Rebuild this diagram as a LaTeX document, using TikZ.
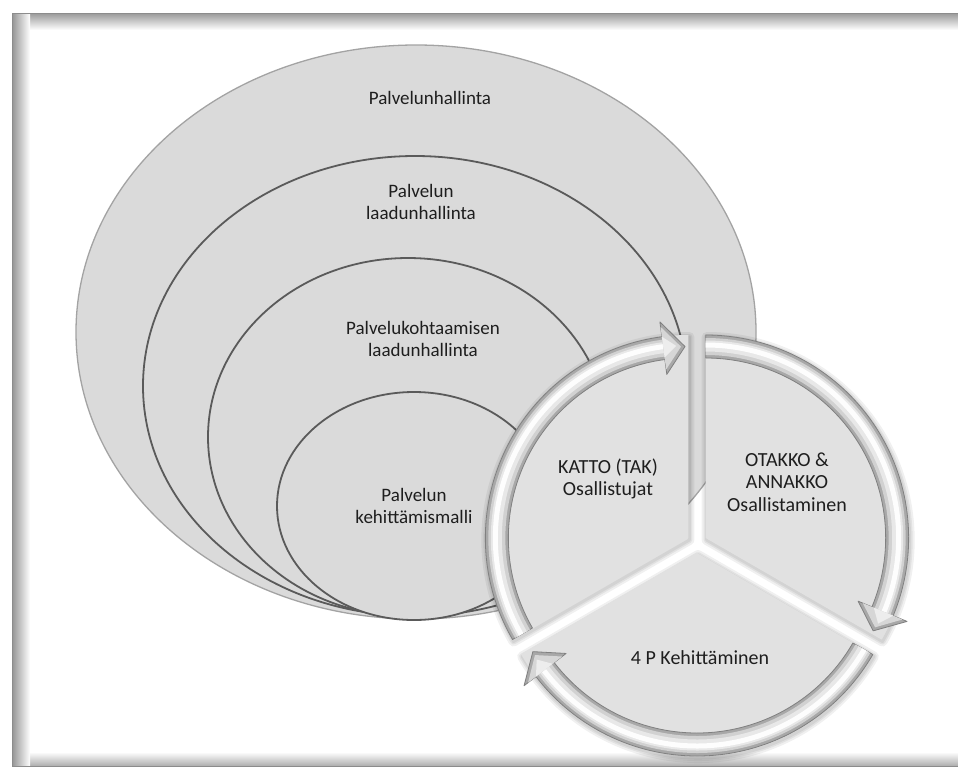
\documentclass[tikz,border=0pt]{standalone}
\usepackage{fontspec}
\setmainfont{Carlito}

\definecolor{ellfill}{RGB}{218,218,218}
\definecolor{slicefill}{RGB}{225,225,225}
\definecolor{ellline}{RGB}{90,90,90}
\definecolor{txt}{RGB}{30,30,30}

% One exploded slice of the three-part cycle, with its curved arrow band.
% #1 = clockwise end angle of the slice (the slice spans #1 .. #1+120)
\newcommand\cycleslice[1]{%
  \begin{scope}[shift={(#1+60:10)}]
    % soft shadow under the slice
    \begin{scope}[shift={(1,-2)}]
      \foreach \w in {10,6,3}
        \draw[black, opacity=0.06, line width=\w pt, line join=round]
          (0,0) -- (#1:203) arc[start angle=#1, end angle=#1+120, radius=203] -- cycle;
    \end{scope}
    \fill[slicefill] (0,0) -- (#1:203) arc[start angle=#1, end angle=#1+120, radius=203] -- cycle;
    % arrow band with head
    \path[band] (#1+120:203) arc[start angle=#1+120, end angle=#1+7.5, radius=203]
      -- (#1+7.5:218) -- (#1+1:191.5) -- (#1+7.5:165) -- (#1+7.5:180)
      arc[start angle=#1+7.5, end angle=#1+120, radius=180] -- cycle;
    \draw[black!18, line width=17pt] (#1+120:191.5) arc[start angle=#1+120, end angle=#1+7.5, radius=191.5];
    \draw[black!9, line width=11pt] (#1+120:192) arc[start angle=#1+120, end angle=#1+7.5, radius=192];
    \draw[white!70!black!3, line width=5pt] (#1+120:193) arc[start angle=#1+120, end angle=#1+7.5, radius=193];
    \fill[black!16] (#1+7.5:213) -- (#1+2.2:191.5) -- (#1+7.5:170) -- cycle;
    \fill[black!7] (#1+7.5:203) -- (#1+3.6:192.5) -- (#1+7.5:182) -- cycle;
  \end{scope}}

\begin{document}
\begin{tikzpicture}[x=1pt,y=-1pt,
  lbl/.style={font=\fontsize{19}{22.5}\selectfont, align=center, text=txt, inner sep=0pt},
  cyclbl/.style={font=\fontsize{20}{22.5}\selectfont, align=center, text=txt, inner sep=0pt},
  outerell/.style={fill=ellfill, draw=black!36, line width=1.3pt},
  innerell/.style={fill=ellfill, draw=ellline, line width=1.8pt},
  band/.style={fill=black!34, draw=black!50, line width=0.8pt, line join=round},
]
\useasboundingbox (0,0) rectangle (958,769);
\fill[white] (0,0) rectangle (958,769);

% page frame with inner shadow
\shade[top color=black!40, bottom color=white] (12,13) rectangle (958,30);
\shade[bottom color=black!32, top color=white] (12,752) rectangle (958,766);
\shade[left color=black!42, right color=white] (12,13) rectangle (30,766);
\draw[black!45, line width=1pt] (958,13) -- (12,13) -- (12,766) -- (958,766);

% nested ellipses
\path[outerell] (416,332) ellipse [x radius=340, y radius=287];
\path[innerell] (415,386) ellipse [x radius=272, y radius=230];
\path[innerell] (408,437) ellipse [x radius=200, y radius=179];
\path[innerell] (414,506) ellipse [x radius=137, y radius=114];

\node[lbl] (hallinta) at (430,98) {Palvelunhallinta};
\node[lbl] (laatu) at (421,202) {Palvelun\\laadunhallinta};
\node[lbl] (kohtaaminen) at (423,339) {Palvelukohtaamisen\\laadunhallinta};
\node[lbl] (malli) at (414,506) {Palvelun\\kehittämismalli};

% three-part cycle
\begin{scope}[shift={(697,543)}, yscale=-1]
  \cycleslice{90}
  \cycleslice{-30}
  \cycleslice{210}
\end{scope}

\node[cyclbl] (katto) at (608,479) {KATTO (TAK)\\Osallistujat};
\node[cyclbl] (otakko) at (787,482) {OTAKKO \&\\ANNAKKO\\Osallistaminen};
\node[cyclbl] (kehitys) at (700,658) {4 P Kehittäminen};
\end{tikzpicture}
\end{document}
